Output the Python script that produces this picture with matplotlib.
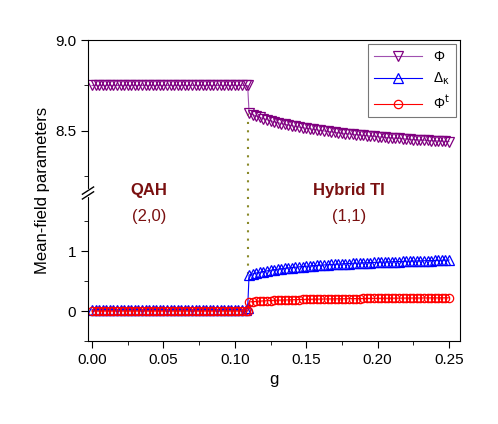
import numpy as np
import matplotlib
matplotlib.use("Agg")
import matplotlib.pyplot as plt

g_left = [round(0.0025*i, 4) for i in range(44)] + [0.109]
g_right = [round(0.11+0.0025*k, 4) for k in range(57)]
phi_left = [8.75]*45
delta_left = [0.02]*44 + [0.05]
phit_left = [0.0]*45
phi_right = [8.600,8.590,8.582,8.575,8.568,8.562,8.556,8.551,8.546,8.541,
8.537,8.533,8.529,8.525,8.521,8.518,8.515,8.512,8.509,8.506,
8.503,8.500,8.498,8.495,8.493,8.490,8.488,8.486,8.484,8.482,
8.480,8.478,8.476,8.474,8.472,8.470,8.468,8.467,8.465,8.463,
8.462,8.460,8.459,8.457,8.456,8.454,8.453,8.452,8.450,8.449,
8.448,8.447,8.446,8.445,8.444,8.443,8.442]
delta_right = [0.600,0.618,0.633,0.646,0.658,0.669,0.679,0.688,0.696,0.704,
0.711,0.718,0.724,0.730,0.736,0.741,0.746,0.751,0.756,0.760,
0.764,0.768,0.772,0.776,0.779,0.782,0.786,0.789,0.792,0.795,
0.797,0.800,0.803,0.805,0.808,0.810,0.812,0.815,0.817,0.819,
0.821,0.823,0.825,0.827,0.829,0.831,0.833,0.835,0.836,0.838,
0.840,0.842,0.843,0.845,0.846,0.848,0.850]
phit_right = [0.150,0.156,0.161,0.165,0.169,0.172,0.175,0.178,0.180,0.182,
0.184,0.186,0.188,0.190,0.191,0.193,0.194,0.195,0.197,0.198,
0.199,0.200,0.201,0.202,0.203,0.204,0.205,0.205,0.206,0.207,
0.208,0.208,0.209,0.210,0.210,0.211,0.211,0.212,0.213,0.213,
0.214,0.214,0.215,0.215,0.216,0.216,0.217,0.217,0.217,0.218,
0.218,0.219,0.219,0.219,0.220,0.220,0.220]

g = g_left + g_right
phi = phi_left + phi_right
delta = delta_left + delta_right
phit = phit_left + phit_right

BRK_LO, BRK_HI = 1.97, 8.16
SLO, SHI = 60.0, 182.0
def fwd(y):
    y = np.asarray(y, float)
    return np.where(y < 5, y*SLO, BRK_LO*SLO + (y-BRK_HI)*SHI)
def inv(v):
    v = np.asarray(v, float)
    return np.where(v < BRK_LO*SLO, v/SLO, BRK_HI + (v-BRK_LO*SLO)/SHI)

plt.rcParams['font.family'] = ['Liberation Sans', 'DejaVu Sans']
fig = plt.figure(figsize=(4.98, 4.24), dpi=100)
ax = fig.add_axes([88/498, 1-341/424, 372/498, 301/424])
ax.set_yscale('function', functions=(fwd, inv))
ax.set_xlim(-0.0028, 0.2577)
ax.set_ylim(-0.5, 9.0)

ax.plot([0.109, 0.109], [0.62, 8.6], ls=(0, (1, 3)), color='#8a8a2a', lw=1.5)
ax.plot(g, phi, color='#a050b0', lw=0.8, marker='v', ms=7, mfc='none', mec='purple', mew=0.9, label='Φ')
ax.plot(g, delta, color='blue', lw=0.8, marker='^', ms=7, mfc='none', mec='blue', mew=0.9, label='Δ$_{\\rm κ}$')
ax.plot(g, phit, color='red', lw=0.8, marker='o', ms=6, mfc='none', mec='red', mew=0.9, label='Φ$^{\\rm t}$')

ax.set_yticks([0, 1, 8.5, 9.0])
ax.set_yticklabels(['0', '1', '8.5', '9.0'])
ax.set_yticks([-0.5, 0.5, 1.5, 8.25, 8.75], minor=True)
ax.set_xticks([0, 0.05, 0.10, 0.15, 0.20, 0.25])
ax.set_xticklabels(['0.00', '0.05', '0.10', '0.15', '0.20', '0.25'])
ax.set_xticks(np.arange(0.025, 0.25, 0.05), minor=True)
ax.tick_params(labelsize=11)
ax.tick_params(which='major', length=5)
ax.tick_params(which='minor', length=3)
ax.set_xlabel('g', fontsize=12)
ax.set_ylabel('Mean-field parameters', fontsize=12)

# break mark (white gap in spine + two slashes), in axes coordinates
yb = (341-193)/301
ax.plot([0, 0], [yb-0.008, yb+0.008], transform=ax.transAxes, color='white', lw=3, clip_on=False, zorder=5)
for dy in (-0.008, 0.008):
    ax.plot([-0.015, 0.015], [yb+dy-0.012, yb+dy+0.012], transform=ax.transAxes,
            color='black', lw=1, clip_on=False, zorder=6)

tc = '#7a1010'
ax.text(0.04, 0.50, 'QAH', color=tc, fontsize=12, fontweight='bold', ha='center', va='center', transform=ax.get_xaxis_transform())
ax.text(0.04, 0.415, '(2,0)', color=tc, fontsize=12, ha='center', va='center', transform=ax.get_xaxis_transform())
ax.text(0.18, 0.50, 'Hybrid TI', color=tc, fontsize=12, fontweight='bold', ha='center', va='center', transform=ax.get_xaxis_transform())
ax.text(0.18, 0.415, '(1,1)', color=tc, fontsize=12, ha='center', va='center', transform=ax.get_xaxis_transform())

leg = ax.legend(loc='upper right', fontsize=10, fancybox=False, edgecolor='#555555',
                handlelength=3.5, borderaxespad=0.3)
leg.get_frame().set_linewidth(0.8)
fig.savefig('out.png', dpi=100)
